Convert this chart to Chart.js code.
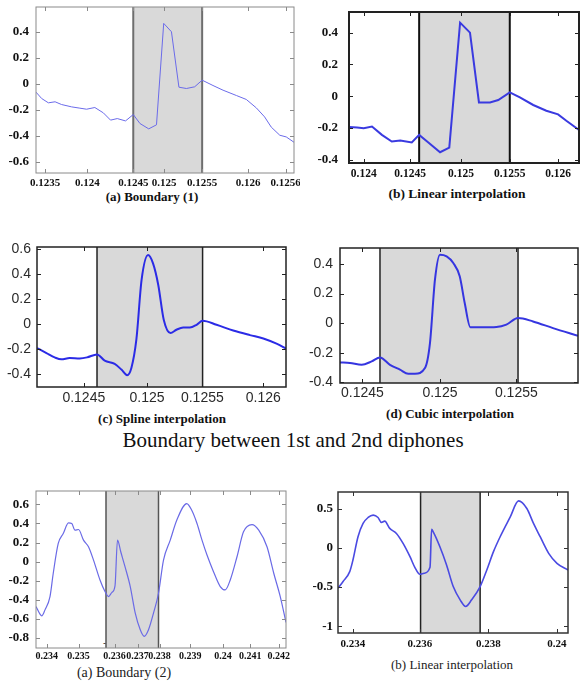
<!DOCTYPE html>
<html>
<head>
<meta charset="utf-8">
<title>Diphone boundary interpolation</title>
<script src="https://cdn.jsdelivr.net/npm/chart.js@4.4.0/dist/chart.umd.min.js"></script>
<style>
    body { margin: 0; background: #fff; }
    #page { position: relative; width: 583px; height: 681px; overflow: hidden; background: #fff; }
    #page canvas { position: absolute; }
    .txt { position: absolute; white-space: nowrap; transform: translate(-50%, -50%); line-height: 1; color: #111; }
    .serif { font-family: "Liberation Serif", "Times New Roman", serif; }
    .bold { font-weight: bold; }
    .note { font-family: "Liberation Sans", Arial, sans-serif; font-size: 10px; color: #444; }
    .dash { display: inline-block; width: 17px; border-top: 1px solid #444; vertical-align: middle; margin-left: 2px; }
</style>
</head>
<body>
<div id="page">
    <div class="txt serif bold" style="left:152px; top:196px; font-size:13px;">(a) Boundary (1)</div>
    <div class="txt serif bold" style="left:457px; top:194px; font-size:13.5px;">(b) Linear interpolation</div>
    <div class="txt serif bold" style="left:162px; top:418px; font-size:13px;">(c) Spline interpolation</div>
    <div class="txt serif bold" style="left:450px; top:413px; font-size:13px;">(d) Cubic interpolation</div>
    <div class="txt serif" style="left:293px; top:440px; font-size:21px;">Boundary between 1st and 2nd diphones</div>
    <div class="txt serif" style="left:124px; top:673px; font-size:14px; color:#222;">(a) Boundary (2)</div>
    <div class="txt serif" style="left:452px; top:664px; font-size:13px; color:#222;">(b) Linear interpolation</div>
    <div class="txt note" style="left:167px; top:166px;">0.9 mSec</div>
    <div class="txt note" style="left:131px; top:643px;">-2 mSec<span class="dash"></span></div>
</div>
<script>
// Data: x is the position along each time axis (0 = left edge, 100 = right edge)

// (a) Boundary (1)
const p1X = [0, 2.2, 4.8, 7.4, 9.9, 13.8, 17.0, 19.6, 22.8, 26.1, 28.9, 31.5, 34.7, 37.7, 40.3, 43.7, 46.7, 49.5, 52.5, 55.4, 58.3, 61.5, 64.4, 68.6, 72.5, 77.7, 81.5, 85.4, 88.6, 91.2, 94.5, 97.0, 100];
const p1Y = [-0.064, -0.113, -0.146, -0.138, -0.159, -0.177, -0.187, -0.195, -0.182, -0.223, -0.279, -0.267, -0.285, -0.236, -0.305, -0.346, -0.315, 0.464, 0.4, -0.026, -0.036, -0.023, 0.028, -0.013, -0.049, -0.09, -0.12, -0.185, -0.254, -0.333, -0.395, -0.408, -0.449];
const p1XTicks = [3.5, 19.9, 37.7, 49.7, 64.4, 82.2, 96.8];
const p1XLabels = ['0.1235', '0.124', '0.1245', '0.125', '0.1255', '0.126', '0.1256'];
const p1YTicks = [0.4, 0.2, 0, -0.2, -0.4, -0.6];
const p1Bounds = [37.7, 64.4];

// (b) Linear interpolation
const p2X = [0, 3.5, 6.4, 10.0, 14.3, 18.6, 22.3, 27.3, 30.5, 34.5, 39.6, 43.6, 48.3, 52.6, 56.5, 61.3, 64.9, 69.9, 74.3, 80.1, 85.8, 90.9, 94.5, 100];
const p2Y = [-0.193, -0.197, -0.202, -0.191, -0.243, -0.285, -0.279, -0.291, -0.243, -0.291, -0.352, -0.323, 0.463, 0.4, -0.039, -0.039, -0.024, 0.024, -0.007, -0.055, -0.091, -0.114, -0.154, -0.212];
const p2XTicks = [6.4, 26.6, 48.7, 69.9, 90.9];
const p2XLabels = ['0.124', '0.1245', '0.125', '0.1255', '0.126'];
const p2YTicks = [0.4, 0.2, 0, -0.2, -0.4];
const p2Bounds = [30.5, 69.9];

// (c) Spline interpolation
const p3X = [0, 3.8, 7.1, 9.8, 13.1, 17.2, 20.1, 24.1, 27.2, 31.2, 33.9, 36.2, 37.9, 39.9, 42.0, 44.6, 46.6, 48.7, 50.9, 53.6, 56.0, 58.7, 61.4, 64.1, 66.5, 72.1, 78.8, 85.5, 90.9, 96.2, 100];
const p3Y = [-0.192, -0.232, -0.267, -0.283, -0.272, -0.275, -0.267, -0.243, -0.293, -0.32, -0.365, -0.41, -0.352, -0.125, 0.355, 0.555, 0.488, 0.315, 0.035, -0.072, -0.045, -0.027, -0.027, -0.005, 0.027, -0.005, -0.051, -0.088, -0.115, -0.157, -0.197];
const p3XTicks = [18.8, 44.2, 66.4, 90.9];
const p3XLabels = ['0.1245', '0.125', '0.1255', '0.126'];
const p3YTicks = [0.6, 0.4, 0.2, 0, -0.2, -0.4];
const p3Bounds = [24.1, 66.5];

// (d) Cubic interpolation
const p4X = [0, 4.2, 9.1, 13.3, 16.8, 21.0, 25.2, 28.7, 31.5, 35.7, 37.8, 39.9, 42.0, 44.8, 47.6, 50.3, 52.4, 54.8, 60.1, 65.7, 69.9, 74.8, 81.1, 89.5, 100];
const p4Y = [-0.265, -0.269, -0.281, -0.258, -0.231, -0.281, -0.314, -0.341, -0.341, -0.303, -0.134, 0.294, 0.463, 0.452, 0.407, 0.317, 0.136, -0.028, -0.028, -0.026, -0.01, 0.035, 0.012, -0.033, -0.085];
const p4XTicks = [9.4, 42.0, 74.1];
const p4XLabels = ['0.1245', '0.125', '0.1255'];
const p4YTicks = [0.4, 0.2, 0, -0.2, -0.4];
const p4Bounds = [16.8, 74.8];

// (a) Boundary (2)
const p5X = [0, 2.3, 3.6, 5.6, 6.9, 8.9, 10.9, 13.0, 14.3, 15.6, 17.0, 19.0, 21.0, 23.0, 25.6, 27.6, 29.0, 30.3, 31.6, 32.6, 33.9, 35.6, 37.7, 39.7, 41.7, 43.3, 45.0, 47.0, 49.0, 51.0, 53.7, 56.3, 60.3, 62.3, 64.4, 66.4, 68.4, 71.0, 73.7, 75.7, 77.7, 80.4, 83.0, 86.4, 89.1, 92.4, 95.1, 97.7, 100];
const p5Y = [-0.47, -0.567, -0.505, -0.366, -0.122, 0.19, 0.294, 0.405, 0.398, 0.329, 0.336, 0.225, 0.155, 0.016, -0.192, -0.313, -0.366, -0.324, -0.254, 0.225, 0.103, -0.053, -0.261, -0.539, -0.713, -0.782, -0.713, -0.539, -0.331, 0.016, 0.225, 0.433, 0.607, 0.537, 0.399, 0.225, 0.069, -0.105, -0.261, -0.296, -0.192, 0.051, 0.312, 0.388, 0.329, 0.155, -0.122, -0.366, -0.636];
const p5XTicks = [4.3, 17.0, 31.4, 40.6, 49.4, 61.7, 74.8, 85.7, 97.1];
const p5XLabels = ['0.234', '0.235', '0.236', '0.237', '0.238', '0.239', '0.24', '0.241', '0.242'];
const p5YTicks = [0.6, 0.4, 0.2, 0, -0.2, -0.4, -0.6, -0.8];
const p5Bounds = [28.0, 49.0];

// (b) Linear interpolation, boundary (2)
const p6X = [0, 2.2, 5.1, 6.5, 8.7, 10.9, 13.1, 15.3, 17.4, 18.9, 20.3, 22.5, 25.4, 28.3, 31.3, 33.4, 35.6, 37.4, 40.0, 40.7, 41.4, 44.3, 47.2, 50.1, 53.1, 55.5, 58.1, 61.8, 64.7, 67.6, 70.5, 74.9, 78.5, 82.1, 85.0, 87.9, 91.6, 95.2, 100];
const p6Y = [-0.514, -0.429, -0.303, -0.155, 0.141, 0.31, 0.386, 0.416, 0.386, 0.323, 0.339, 0.247, 0.183, 0.056, -0.113, -0.248, -0.337, -0.324, -0.248, 0.234, 0.204, 0.014, -0.218, -0.493, -0.662, -0.746, -0.662, -0.493, -0.282, -0.049, 0.141, 0.394, 0.597, 0.5, 0.31, 0.141, -0.07, -0.197, -0.282];
const p6XTicks = [6.5, 35.6, 65.4, 95.2];
const p6XLabels = ['0.234', '0.236', '0.238', '0.24'];
const p6YTicks = [0.5, 0, -0.5, -1];
const p6Bounds = [35.9, 61.8];

const SERIF = '"Liberation Serif", "Times New Roman", serif';
const SANS = '"Liberation Sans", Arial, sans-serif';
const boldSerif = size => ({ family: SERIF, size: size, weight: 'bold' });
const sans = size => ({ family: SANS, size: size });

// shaded boundary region, frame and inward tick marks
const framePlugin = {
    id: 'frame',
    beforeDatasetsDraw(chart, args, o) {
        const { ctx, chartArea: a, scales: { x } } = chart;
        const x0 = x.getPixelForValue(o.bounds[0]);
        const x1 = x.getPixelForValue(o.bounds[1]);
        ctx.save();
        ctx.fillStyle = '#d9d9d9';
        ctx.fillRect(x0, a.top, x1 - x0, a.bottom - a.top);
        ctx.strokeStyle = o.boundColor;
        ctx.lineWidth = o.boundWidth;
        [x0, x1].forEach(px => {
            ctx.beginPath();
            ctx.moveTo(px, a.top);
            ctx.lineTo(px, a.bottom);
            ctx.stroke();
        });
        ctx.restore();
    },
    afterDatasetsDraw(chart, args, o) {
        const { ctx, chartArea: a, scales: { x, y } } = chart;
        ctx.save();
        ctx.strokeStyle = o.frameColor;
        ctx.lineWidth = o.frameWidth;
        ctx.strokeRect(a.left, a.top, a.right - a.left, a.bottom - a.top);
        ctx.lineWidth = 1;
        ctx.beginPath();
        x.ticks.forEach(t => {
            const px = Math.round(x.getPixelForValue(t.value)) + 0.5;
            ctx.moveTo(px, a.bottom); ctx.lineTo(px, a.bottom - 4);
            ctx.moveTo(px, a.top); ctx.lineTo(px, a.top + 4);
        });
        y.ticks.forEach(t => {
            const py = Math.round(y.getPixelForValue(t.value)) + 0.5;
            ctx.moveTo(a.left, py); ctx.lineTo(a.left + 4, py);
            ctx.moveTo(a.right, py); ctx.lineTo(a.right - 4, py);
        });
        ctx.stroke();
        ctx.restore();
    }
};

function makePanel(p) {
    const canvas = document.createElement('canvas');
    canvas.width = p.w;
    canvas.height = p.h;
    canvas.style.left = p.left + 'px';
    canvas.style.top = p.top + 'px';
    document.getElementById('page').appendChild(canvas);

    return new Chart(canvas, {
        type: 'line',
        data: {
            datasets: [{
                data: p.xs.map((v, i) => ({ x: v, y: p.ys[i] })),
                borderColor: p.color,
                borderWidth: p.lineWidth,
                pointRadius: 0,
                fill: false,
                tension: 0,
                cubicInterpolationMode: p.smooth ? 'monotone' : 'default'
            }]
        },
        options: {
            responsive: false,
            animation: false,
            devicePixelRatio: 1,
            layout: { padding: { top: p.padTop, right: p.padRight, left: 0, bottom: 0 } },
            plugins: {
                legend: { display: false },
                tooltip: { enabled: false },
                frame: {
                    bounds: p.bounds,
                    boundColor: p.boundColor,
                    boundWidth: p.boundWidth,
                    frameColor: p.frameColor,
                    frameWidth: p.frameWidth
                }
            },
            scales: {
                x: {
                    type: 'linear',
                    min: 0,
                    max: 100,
                    grid: { display: false, drawTicks: false },
                    border: { display: false },
                    afterBuildTicks: s => { s.ticks = p.xTicks.map(v => ({ value: v })); },
                    afterFit: s => { s.height = p.xH; s.paddingLeft = 0; s.paddingRight = 0; },
                    ticks: {
                        autoSkip: false,
                        maxRotation: 0,
                        padding: p.xPad,
                        color: p.tickColor,
                        font: p.xFont,
                        callback: (v, i) => p.xLabels[i]
                    }
                },
                y: {
                    type: 'linear',
                    min: p.yMin,
                    max: p.yMax,
                    grid: { display: false, drawTicks: false },
                    border: { display: false },
                    afterBuildTicks: s => { s.ticks = p.yTicks.map(v => ({ value: v })); },
                    afterFit: s => { s.width = p.yW; s.paddingTop = 0; s.paddingBottom = 0; },
                    ticks: {
                        autoSkip: false,
                        padding: p.yPad,
                        color: p.tickColor,
                        font: p.yFont,
                        callback: v => String(v)
                    }
                }
            }
        },
        plugins: [framePlugin]
    });
}

makePanel({
    left: 0, top: 0, w: 300, h: 194, yW: 36, xH: 21, padTop: 7, padRight: 6,
    xs: p1X, ys: p1Y, xTicks: p1XTicks, xLabels: p1XLabels, yTicks: p1YTicks, bounds: p1Bounds,
    yMin: -0.685, yMax: 0.59, color: '#6b6bea', lineWidth: 1, smooth: false,
    frameColor: '#8a8a8a', frameWidth: 1, boundColor: '#6e6e6e', boundWidth: 2,
    tickColor: '#111', xFont: boldSerif(11), yFont: boldSerif(13), xPad: 4, yPad: 7
});

makePanel({
    left: 310, top: 0, w: 273, h: 184, yW: 39, xH: 21, padTop: 12, padRight: 4,
    xs: p2X, ys: p2Y, xTicks: p2XTicks, xLabels: p2XLabels, yTicks: p2YTicks, bounds: p2Bounds,
    yMin: -0.42, yMax: 0.53, color: '#3a3ae0', lineWidth: 2, smooth: false,
    frameColor: '#222', frameWidth: 2, boundColor: '#111', boundWidth: 2,
    tickColor: '#111', xFont: boldSerif(11.5), yFont: boldSerif(13), xPad: 4, yPad: 11
});

makePanel({
    left: 0, top: 236, w: 300, h: 172, yW: 37, xH: 21, padTop: 11, padRight: 14,
    xs: p3X, ys: p3Y, xTicks: p3XTicks, xLabels: p3XLabels, yTicks: p3YTicks, bounds: p3Bounds,
    yMin: -0.505, yMax: 0.62, color: '#2b2be6', lineWidth: 2, smooth: true,
    frameColor: '#222', frameWidth: 1.5, boundColor: '#222', boundWidth: 1.5,
    tickColor: '#2a2a2a', xFont: sans(14), yFont: sans(14), xPad: 3, yPad: 6
});

makePanel({
    left: 300, top: 238, w: 283, h: 166, yW: 40, xH: 21, padTop: 10, padRight: 5,
    xs: p4X, ys: p4Y, xTicks: p4XTicks, xLabels: p4XLabels, yTicks: p4YTicks, bounds: p4Bounds,
    yMin: -0.404, yMax: 0.508, color: '#3535e0', lineWidth: 2, smooth: true,
    frameColor: '#222', frameWidth: 1.5, boundColor: '#222', boundWidth: 1.5,
    tickColor: '#2a2a2a', xFont: sans(14), yFont: sans(14), xPad: 2, yPad: 7
});

makePanel({
    left: 0, top: 480, w: 300, h: 188, yW: 36, xH: 20, padTop: 11, padRight: 14,
    xs: p5X, ys: p5Y, xTicks: p5XTicks, xLabels: p5XLabels, yTicks: p5YTicks, bounds: p5Bounds,
    yMin: -0.904, yMax: 0.739, color: '#6a6ae6', lineWidth: 1.2, smooth: true,
    frameColor: '#8a8a8a', frameWidth: 1, boundColor: '#555', boundWidth: 1.5,
    tickColor: '#111', xFont: boldSerif(10), yFont: boldSerif(13), xPad: 2, yPad: 7
});

makePanel({
    left: 300, top: 480, w: 283, h: 174, yW: 38, xH: 21, padTop: 12, padRight: 15,
    xs: p6X, ys: p6Y, xTicks: p6XTicks, xLabels: p6XLabels, yTicks: p6YTicks, bounds: p6Bounds,
    yMin: -1.084, yMax: 0.71, color: '#4a4ae2', lineWidth: 1.6, smooth: true,
    frameColor: '#333', frameWidth: 1.5, boundColor: '#222', boundWidth: 1.5,
    tickColor: '#111', xFont: boldSerif(11), yFont: boldSerif(13), xPad: 5, yPad: 5
});
</script>
</body>
</html>
